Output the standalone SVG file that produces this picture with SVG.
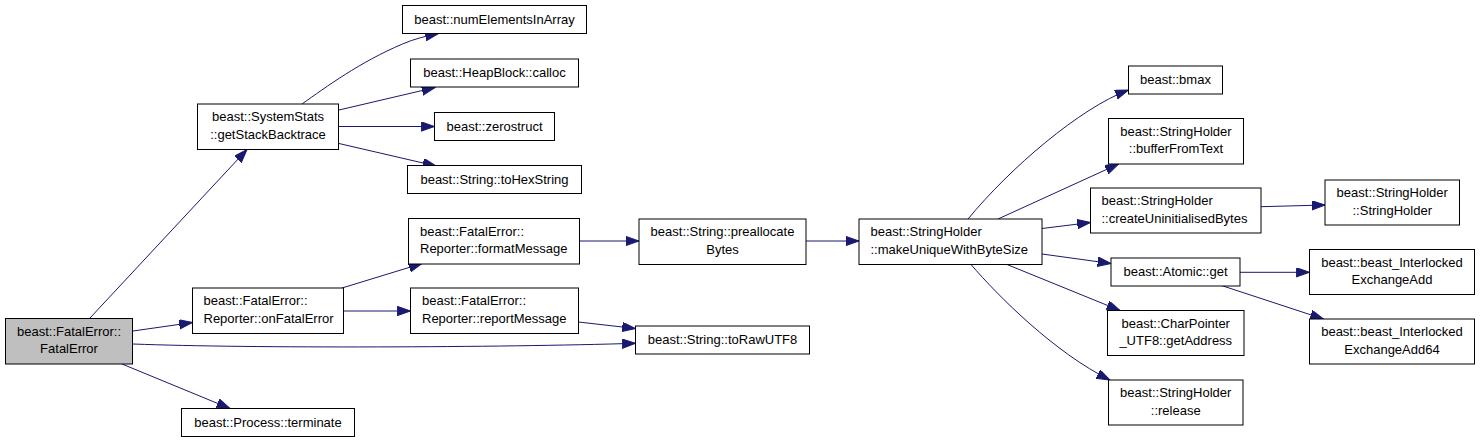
<svg xmlns="http://www.w3.org/2000/svg" width="1480" height="443" viewBox="0 0 1480 443">
<style>
.n rect{fill:#ffffff;stroke:#000000;stroke-width:1}
.n.root rect{fill:#bfbfbf}
.n text{font-family:"Liberation Sans",Arial,Helvetica,sans-serif;font-size:13px;fill:#000000;text-anchor:middle}
.n text.l{text-anchor:start}
.e path{fill:none;stroke:#191970;stroke-width:1;marker-end:url(#ah)}
</style>
<defs>
<marker id="ah" markerUnits="userSpaceOnUse" markerWidth="15" markerHeight="11" refX="13.3" refY="4.7" orient="auto" viewBox="0 0 15 11">
<path d="M0,0 L13.3,4.7 L0,9.4 z" fill="#191970" stroke="#191970" stroke-width="1"/>
</marker>
</defs>
<rect width="1480" height="443" fill="#ffffff"/>
<g id="edges" class="e">
<path d="M90,318 L247,149.5"/>
<path d="M133,331 L192.5,322.5"/>
<path d="M133,344 C250,348.5 500,347.5 635.5,343.3"/>
<path d="M122,364 L230,408.5"/>
<path d="M302,104 C326,87 360,62 402.5,44 C414,39 426,36 438.5,33.5"/>
<path d="M339,110 L435,87.5"/>
<path d="M339,126.5 L434.5,126.5"/>
<path d="M339,143.5 L436,166"/>
<path d="M342,288 L422,263.5"/>
<path d="M343.5,311 L410.5,311"/>
<path d="M578.5,322 L635.5,328.5"/>
<path d="M579.5,241 L639,241"/>
<path d="M806,241 L859,241"/>
<path d="M968,219 C1010,168 1080,108 1128.5,90"/>
<path d="M998,219 L1118.5,164"/>
<path d="M1042,228.5 L1090.5,222.5"/>
<path d="M1261,206.7 L1325,205"/>
<path d="M1042,254 L1111,263.5"/>
<path d="M1007,264.5 L1120,310.5"/>
<path d="M971,264.5 C998,296 1055,353 1110,380"/>
<path d="M1240,272.3 L1309.5,272.3"/>
<path d="M1221.5,285.5 L1323.5,319"/>
</g>
<g id="node_FatalError" class="n root"><rect x="5.5" y="318.5" width="127" height="45.5"/><text x="69" y="335.75">beast::FatalError::</text><text x="69" y="353">FatalError</text></g>
<g id="node_getStackBacktrace" class="n"><rect x="197.5" y="104" width="141" height="45.5"/><text x="268" y="121.25">beast::SystemStats</text><text x="268" y="138.5">::getStackBacktrace</text></g>
<g id="node_onFatalError" class="n"><rect x="192.5" y="288" width="151" height="45.5"/><text class="l" x="203.5" y="305.25">beast::FatalError::</text><text class="l" x="203.5" y="322.5">Reporter::onFatalError</text></g>
<g id="node_terminate" class="n"><rect x="181.5" y="408.5" width="173" height="28"/><text x="268" y="426.8">beast::Process::terminate</text></g>
<g id="node_numElementsInArray" class="n"><rect x="402.5" y="5.5" width="184" height="28"/><text x="494.5" y="23.8">beast::numElementsInArray</text></g>
<g id="node_calloc" class="n"><rect x="410.5" y="59" width="168" height="28"/><text x="494.5" y="77.3">beast::HeapBlock::calloc</text></g>
<g id="node_zerostruct" class="n"><rect x="434.5" y="112.5" width="120" height="28"/><text x="494.5" y="130.8">beast::zerostruct</text></g>
<g id="node_toHexString" class="n"><rect x="407.5" y="165.5" width="174" height="28"/><text x="494.5" y="183.8">beast::String::toHexString</text></g>
<g id="node_formatMessage" class="n"><rect x="408.5" y="218.5" width="171" height="45.5"/><text class="l" x="420" y="235.75">beast::FatalError::</text><text class="l" x="420" y="253">Reporter::formatMessage</text></g>
<g id="node_reportMessage" class="n"><rect x="410.5" y="288" width="168" height="45.5"/><text class="l" x="422" y="305.25">beast::FatalError::</text><text class="l" x="422" y="322.5">Reporter::reportMessage</text></g>
<g id="node_preallocateBytes" class="n"><rect x="639" y="219" width="167" height="45.5"/><text x="722.5" y="236.25">beast::String::preallocate</text><text x="722.5" y="253.5">Bytes</text></g>
<g id="node_toRawUTF8" class="n"><rect x="635.5" y="326" width="174" height="28"/><text x="722.5" y="344.3">beast::String::toRawUTF8</text></g>
<g id="node_makeUniqueWithByteSize" class="n"><rect x="859" y="219" width="183" height="45.5"/><text class="l" x="870.5" y="236.25">beast::StringHolder</text><text class="l" x="870.5" y="253.5">::makeUniqueWithByteSize</text></g>
<g id="node_bmax" class="n"><rect x="1128.5" y="66" width="94" height="28"/><text x="1175.5" y="84.3">beast::bmax</text></g>
<g id="node_bufferFromText" class="n"><rect x="1108.5" y="118.5" width="135" height="45.5"/><text x="1176" y="135.75">beast::StringHolder</text><text x="1176" y="153">::bufferFromText</text></g>
<g id="node_createUninitialisedBytes" class="n"><rect x="1090.5" y="188" width="170.5" height="45"/><text class="l" x="1101.5" y="205.25">beast::StringHolder</text><text class="l" x="1101.5" y="222.5">::createUninitialisedBytes</text></g>
<g id="node_StringHolder" class="n"><rect x="1325" y="180" width="134.5" height="45"/><text x="1392.25" y="197.25">beast::StringHolder</text><text x="1392.25" y="214.5">::StringHolder</text></g>
<g id="node_AtomicGet" class="n"><rect x="1111" y="258" width="129" height="28"/><text x="1175.5" y="276.3">beast::Atomic::get</text></g>
<g id="node_ExchangeAdd" class="n"><rect x="1309.5" y="249.5" width="165" height="45"/><text x="1392" y="266.75">beast::beast_Interlocked</text><text x="1392" y="284">ExchangeAdd</text></g>
<g id="node_getAddress" class="n"><rect x="1107.5" y="310.5" width="136.5" height="45"/><text x="1175.75" y="327.75">beast::CharPointer</text><text x="1175.75" y="345">_UTF8::getAddress</text></g>
<g id="node_ExchangeAdd64" class="n"><rect x="1309.5" y="319" width="165" height="45"/><text x="1392" y="336.25">beast::beast_Interlocked</text><text x="1392" y="353.5">ExchangeAdd64</text></g>
<g id="node_release" class="n"><rect x="1108.5" y="380" width="134.5" height="45"/><text x="1175.75" y="397.25">beast::StringHolder</text><text x="1175.75" y="414.5">::release</text></g>
</svg>
